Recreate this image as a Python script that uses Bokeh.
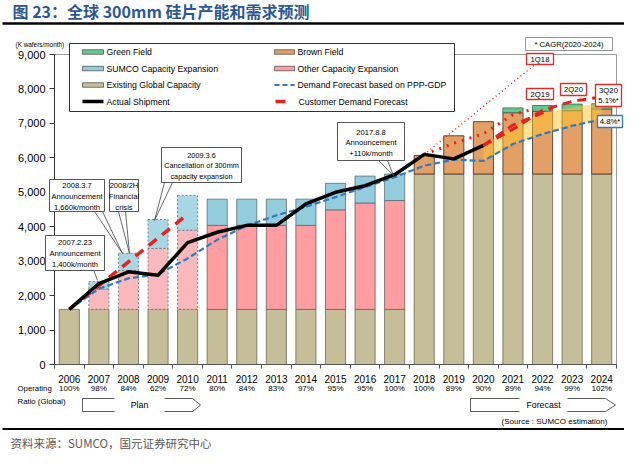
import numpy as np
from bokeh.plotting import figure
from bokeh.models import Range1d, LinearAxis, FixedTicker, NumeralTickFormatter
from bokeh.core.properties import value
from bokeh.embed import file_html
from bokeh.resources import INLINE

# ---------------- data ----------------
years = list(range(2006, 2025))
existing_capacity = [1600] * 12 + [5530] * 7
other_expansion = [0, 590, 1130, 1770, 2300, 2440, 2440, 2440, 2440, 2890, 3090, 3160, 0, 0, 0, 0, 0, 0, 0]
sumco_expansion = [0, 220, 500, 840, 1010, 760, 760, 760, 760, 770, 780, 770, 0, 0, 0, 0, 0, 0, 0]
brown_field = [0] * 12 + [540, 1110, 1520, 1780, 1820, 1840, 1890]
green_field = [0] * 15 + [140, 170, 190, 150]
plan_years = [2007, 2008, 2009, 2010]
operating_ratio = ["100%", "98%", "84%", "62%", "72%", "80%", "84%", "83%", "97%", "95%",
                   "95%", "100%", "100%", "89%", "90%", "89%", "94%", "99%", "102%"]

actual_years = list(range(2006, 2021))
actual_shipment = [1600, 2350, 2690, 2590, 3540, 3840, 4040, 4040, 4660, 5000, 5190, 5510, 6100, 5970, 6360]

ppp_gdp_forecast = [1600, 2200, 2500, 2620, 3080, 3620, 4030, 4330, 4580, 4860, 5150, 5440,
                    5770, 5950, 5910, 6400, 6690, 6930, 7120]

plan_demand_years = [2006, 2007, 2008, 2009, 2010]
plan_demand = [1600, 2290, 2980, 3670, 4360]

fc_1q18_years = [2018, 2021.7]
fc_1q18 = [6100, 8680]
fc_2q19_dot_years = [2018, 2019, 2020, 2021, 2021.7]
fc_2q19_dot = [6100, 6420, 6700, 7250, 7420]
fc_2q19_years = [2020, 2021, 2022.3]
fc_2q19 = [6360, 6950, 7420]
fc_2q20_years = [2020, 2021, 2022, 2023, 2024.4]
fc_2q20 = [6360, 6830, 7380, 7640, 7820]
fc_3q20_years = [2020, 2021, 2022, 2023, 2024]
fc_3q20 = [6360, 6880, 7320, 7460, 7600]

# ---------------- geometry helpers (page pixel -> data) ----------------
SX = (624 - 62) / 19.0
SY = 310 / 9000.0


def X(px):
    return 2005.5 + (px - 62) / SX


def Y(py):
    return (372 - py) / SY


SANS = "Liberation Sans"
CJK = "Noto Sans CJK SC"

p = figure(width=624, height=453, x_range=Range1d(X(8), X(632)), y_range=Range1d(Y(461), Y(8)),
           output_backend="svg", toolbar_location=None, x_axis_location=None, y_axis_location=None,
           min_border=0, outline_line_color=None)
p.xgrid.visible = False
p.ygrid.visible = False
p.background_fill_color = "white"
p.border_fill_color = "white"

# ---------------- axes ----------------
yax = LinearAxis(fixed_location=2005.5, bounds=(0, 9000),
                 ticker=FixedTicker(ticks=list(range(0, 9001, 1000))),
                 formatter=NumeralTickFormatter(format="0,0"))
yax.major_tick_out = 5
yax.major_tick_in = 0
yax.minor_tick_line_color = None
yax.major_label_standoff = 4
yax.major_label_text_font = SANS
yax.major_label_text_font_size = "11px"
yax.major_label_text_color = "black"
yax.axis_line_color = "#333333"
yax.major_tick_line_color = "#333333"
p.add_layout(yax, "left")

xax = LinearAxis(fixed_location=0, bounds=(2005.5, 2024.5),
                 ticker=FixedTicker(ticks=years, minor_ticks=[y - 0.5 for y in years] + [2024.5]))
xax.major_tick_line_color = None
xax.major_tick_out = 0
xax.major_tick_in = 0
xax.minor_tick_out = 4
xax.minor_tick_in = 0
xax.minor_tick_line_color = "#555555"
xax.axis_line_color = "#555555"
xax.major_label_standoff = 6
xax.major_label_text_font = SANS
xax.major_label_text_font_size = "10px"
xax.major_label_text_color = "black"
p.add_layout(xax, "below")

# frame (top + right)
p.line([2005.5, 2024.5, 2024.5], [9000, 9000, 0], line_color="#9a9a9a", line_width=1)

# ---------------- bars ----------------
yrs = np.array(years, dtype=float)
ex = np.array(existing_capacity, dtype=float)
oe = np.array(other_expansion, dtype=float)
se = np.array(sumco_expansion, dtype=float)
bf = np.array(brown_field, dtype=float)
gf = np.array(green_field, dtype=float)
t_other = ex + oe
t_sumco = t_other + se
t_brown = ex + bf
t_green = t_brown + gf
is_plan = np.isin(yrs, plan_years)

W = 0.68
EXIST, OTHER, OTHER_PLAN = "#C6BE99", "#FF9DA0", "#F9B9BC"
SUMCO, SUMCO_PLAN = "#93CDDD", "#A9D6E5"
BROWN, GREEN = "#E2A066", "#63C98F"

p.vbar(x=yrs, width=W, bottom=0, top=ex, fill_color=EXIST, line_color="#6b6654", line_width=0.8)

m = (oe > 0) & ~is_plan
p.vbar(x=yrs[m], width=W, bottom=ex[m], top=t_other[m], fill_color=OTHER, line_color="#6e5a5a", line_width=0.8)
m = (oe > 0) & is_plan
p.vbar(x=yrs[m], width=W, bottom=ex[m], top=t_other[m], fill_color=OTHER_PLAN, line_color="#666666",
       line_width=0.8, line_dash="2 2")
m = (se > 0) & ~is_plan
p.vbar(x=yrs[m], width=W, bottom=t_other[m], top=t_sumco[m], fill_color=SUMCO, line_color="#5a6e74", line_width=0.8)
m = (se > 0) & is_plan
p.vbar(x=yrs[m], width=W, bottom=t_other[m], top=t_sumco[m], fill_color=SUMCO_PLAN, line_color="#666666",
       line_width=0.8, line_dash="2 2")
m = bf > 0
p.vbar(x=yrs[m], width=W, bottom=ex[m], top=t_brown[m], fill_color=BROWN, line_color="#4d3b2a", line_width=0.9)
m = gf > 0
p.vbar(x=yrs[m], width=W, bottom=t_brown[m], top=t_green[m], fill_color=GREEN, line_color="#4d5a4a", line_width=0.8)

# ---------------- forecast band & lines ----------------
band_low = [v for y, v in zip(years, ppp_gdp_forecast) if y >= 2020]
p.varea(x=fc_3q20_years, y1=band_low, y2=fc_3q20, fill_color="#FFC52E", fill_alpha=0.5)

p.line(years, ppp_gdp_forecast, line_color="#2E7BC0", line_width=2.2, line_dash="6 3")
p.line(plan_demand_years, plan_demand, line_color="#E8201E", line_width=3.5, line_dash="10 7")
p.line(fc_1q18_years, fc_1q18, line_color="#E8201E", line_width=1.4, line_dash="1 3")
p.line(fc_2q19_dot_years, fc_2q19_dot, line_color="#E8201E", line_width=3, line_dash="2 6")
p.line(actual_years, actual_shipment, line_color="black", line_width=3.5)
p.line(fc_2q19_years, fc_2q19, line_color="#E8201E", line_width=3, line_dash="9 6")
p.line(fc_2q20_years, fc_2q20, line_color="#E8201E", line_width=3, line_dash="9 6")

LV = "overlay"


# ---------------- helpers for decoration ----------------
def txt(px, py, s, size, font=SANS, color="black", align="center", style="normal"):
    p.text(x=[X(px)], y=[Y(py)], text=[s], text_font=value(font), text_font_size=f"{size}px",
           text_color=color, text_align=align, text_baseline="middle", text_font_style=style, level=LV)


def box(x0, y0, x1, y1, line_color="#444444", lw=0.9):
    p.quad(left=[X(x0)], right=[X(x1)], top=[Y(y0)], bottom=[Y(y1)], fill_color="white",
           line_color=line_color, line_width=lw, level=LV)


def seg(pts, color="#444444", lw=0.8):
    p.line([X(a) for a, b in pts], [Y(b) for a, b in pts], line_color=color, line_width=lw, level=LV)


# callouts
seg([(101, 277), (105, 288)])
box(53, 243, 112, 278)
for i, s in enumerate(["2007.2.23", "Announcement", "1,400k/month"]):
    txt(82.5, 250 + i * 10.8, s, 7.6)

seg([(102, 219), (130, 261), (110, 219)])
box(57, 187, 112, 219)
for i, s in enumerate(["2008.3.7", "Announcement", "1,660k/month"]):
    txt(84.5, 193 + i * 10.8, s, 7.6)

seg([(126, 219), (137, 261), (133, 219)])
box(117, 187, 146, 219)
for i, s in enumerate(["2008/2H", "Financial", "crisis"]):
    txt(131.5, 193 + i * 10.8, s, 7.6)

seg([(172, 190), (162, 228), (180, 190)])
box(169, 155, 249, 190)
for i, s in enumerate(["2009.3.6", "Cancellation of 300mm", "capacity expansion"]):
    txt(209, 162.5 + i * 10.5, s, 7.3)

seg([(386, 168), (401, 183), (395, 168)])
box(345, 130, 412, 168)
for i, s in enumerate(["2017.8.8", "Announcement", "+110k/month"]):
    txt(378.5, 139.5 + i * 10.5, s, 7.6)

# legend
box(77, 51, 462, 119, line_color="#333333", lw=1)
rows = [59.5, 76, 92.5, 109]
legend_rects = [(0, GREEN, "Green Field"), (1, SUMCO, "SUMCO Capacity Expansion"),
                (2, EXIST, "Existing Global Capacity")]
for r, c, s in legend_rects:
    p.rect(x=[X(100.5)], y=[Y(rows[r])], width=21, height=4.5, width_units="screen", height_units="screen",
           fill_color=c, line_color="#555555", line_width=0.8, level=LV)
    txt(114, rows[r], s, 8.7, align="left")
for r, c, s in [(0, BROWN, "Brown Field"), (1, OTHER, "Other Capacity Expansion")]:
    p.rect(x=[X(292)], y=[Y(rows[r])], width=20, height=4.5, width_units="screen", height_units="screen",
           fill_color=c, line_color="#555555", line_width=0.8, level=LV)
    txt(305, rows[r], s, 8.7, align="left")
p.line([X(90), X(111)], [Y(rows[3])] * 2, line_color="black", line_width=3.5, level=LV)
txt(114, rows[3], "Actual Shipment", 8.7, align="left")
p.line([X(282), X(302)], [Y(rows[2])] * 2, line_color="#2E7BC0", line_width=2.2, line_dash="5 3", level=LV)
txt(305, rows[2], "Demand Forecast based on PPP-GDP", 8.7, align="left")
p.line([X(283), X(293)], [Y(rows[3])] * 2, line_color="#E8201E", line_width=3.5, level=LV)
txt(306, rows[3], "Customer Demand Forecast", 8.7, align="left")

# small forecast boxes
RED = "#E02B2B"
box(533, 45, 620, 58, line_color="#8a8a8a")
txt(576.5, 51.5, "* CAGR(2020-2024)", 7.7)
box(534, 61, 561, 72, line_color=RED, lw=1.3)
txt(547.5, 66.5, "1Q18", 7.7)
box(534, 96, 561, 107, line_color=RED, lw=1.3)
txt(547.5, 101.5, "2Q19", 7.7)
box(568, 91, 594, 103, line_color=RED, lw=1.3)
txt(581, 97, "2Q20", 7.7)
box(603, 92, 629, 114, line_color=RED, lw=1.3)
txt(616, 97.5, "3Q20", 7.7)
txt(616, 108, "5.1%*", 7.7)
box(605, 123, 630, 135, line_color="#2E7BC0", lw=1.3)
txt(617.5, 129, "4.8%*", 7.7)

# ratio row
p.text(x=years, y=[Y(396)] * len(years), text=operating_ratio, text_font=value(SANS), text_font_size="8px",
       text_align="center", text_baseline="middle", text_color="black")
txt(25, 396, "Operating", 7.8, align="left")
txt(25, 409, "Ratio (Global)", 7.8, align="left")

# plan / forecast arrows
seg([(122, 406), (90, 406), (90, 419), (122, 419)], color="#333333")
seg([(172, 406), (200, 406), (208, 412.5), (200, 419), (172, 419)], color="#333333")
txt(147, 412.5, "Plan", 8.8)
seg([(527, 406), (478, 406), (478, 419), (527, 419)], color="#333333")
seg([(575, 406), (613, 406), (623, 412.5), (613, 419), (575, 419)], color="#333333")
txt(551, 412.5, "Forecast", 8.8)
txt(562, 429, "(Source : SUMCO estimation)", 8)

# y unit
txt(23, 52, "(K wafers/month)", 6.4, align="left")

# title, rules, footer
txt(20, 18, "图 23：全球 300mm 硅片产能和需求预测", 16, font=CJK, color="#2B5797", align="left", style="bold")
p.line([X(10), X(632)], [Y(31)] * 2, line_color="black", line_width=2.5)
p.line([X(10), X(632)], [Y(436.5)] * 2, line_color="black", line_width=2)
txt(18, 450, "资料来源：SUMCO，国元证券研究中心", 11.5, font=CJK, color="#595959", align="left")

open("out.html", "w").write(file_html(p, INLINE))
